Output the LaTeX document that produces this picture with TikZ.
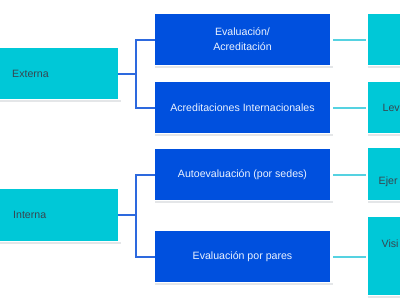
\documentclass[tikz,border=0pt]{standalone}
\usepackage{fontspec}
\setmainfont{Liberation Sans}
\definecolor{dblue}{RGB}{0,80,222}
\definecolor{cyanb}{RGB}{0,200,215}
\definecolor{lblue}{RGB}{45,105,222}
\definecolor{lcyan}{RGB}{85,210,225}
\definecolor{darktxt}{RGB}{55,70,80}
\definecolor{shad}{RGB}{228,230,232}
\definecolor{wtxt}{RGB}{235,242,255}
\begin{document}
\begin{tikzpicture}[x=1pt,y=-1pt,
  bluebox/.style={fill=dblue,draw=none,inner sep=0pt,minimum width=175pt,text=wtxt,align=center,font=\fontsize{10.6}{15}\selectfont},
  cyanbox/.style={fill=cyanb,draw=none,inner sep=0pt,text=darktxt,font=\fontsize{10.6}{15}\selectfont},
  bline/.style={draw=lblue,line width=2pt},
  cline/.style={draw=lcyan,line width=2pt,shorten <=3pt,shorten >=2pt},
  shline/.style={draw=shad,line width=1.8pt}]
\useasboundingbox (0,0) rectangle (400,300);
% left boxes
\node[cyanbox,minimum width=176pt,minimum height=51pt] (ext) at (30,73.5) {};
\node[cyanbox,anchor=west] (extt) at (12,73.5) {Externa};
\node[cyanbox,minimum width=176pt,minimum height=52pt] (int) at (30,215) {};
\node[cyanbox,anchor=west] (intt) at (13,215) {Interna};
% middle boxes
\node[bluebox,minimum height=51pt] (b1) at (242.5,39.5) {Evaluación/\\Acreditación};
\node[bluebox,minimum height=51pt] (b2) at (242.5,107.5) {Acreditaciones Internacionales};
\node[bluebox,minimum height=51pt] (b3) at (242.5,174.5) {Autoevaluación (por sedes)};
\node[bluebox,minimum height=51pt] (b4) at (242.5,256.5) {Evaluación por pares};
% right boxes
\node[cyanbox,minimum width=80pt,minimum height=51pt] (c1) at (408,39.5) {};
\node[cyanbox,minimum width=80pt,minimum height=51pt] (c2) at (408,107.5) {};
\node[cyanbox,minimum width=80pt,minimum height=52pt] (c3) at (408,174) {};
\node[cyanbox,minimum width=80pt,minimum height=78pt] (c4) at (408,256) {};
\node[cyanbox,fill=none,anchor=west] (c2t) at (382.5,107.5) {Lev};
\node[cyanbox,fill=none,anchor=west] (c3t) at (378.5,182) {Ejer};
\node[cyanbox,fill=none,anchor=west] (c4t) at (381.5,244) {Visi};
% shadows
\foreach \n in {ext,int,b1,b2,b3,b4,c1,c2,c3,c4}{
  \draw[shline] ([yshift=-2pt]\n.south west) -- ([yshift=-2pt,xshift=3pt]\n.south east);
}
% connectors
\draw[bline] (ext.east) -- ++(18,0) coordinate (ej);
\draw[bline] (ej) |- (b1.west);
\draw[bline] (ej) |- (b2.west);
\draw[bline] (int.east) -- ++(18,0) coordinate (ij);
\draw[bline] (ij) |- (b3.west);
\draw[bline] (ij) |- (b4.west);
\draw[cline] (b1.east) -- (c1.west |- b1.east);
\draw[cline] (b2.east) -- (c2.west |- b2.east);
\draw[cline] (b3.east) -- (c3.west |- b3.east);
\draw[cline] (b4.east) -- (c4.west |- b4.east);
\end{tikzpicture}
\end{document}
